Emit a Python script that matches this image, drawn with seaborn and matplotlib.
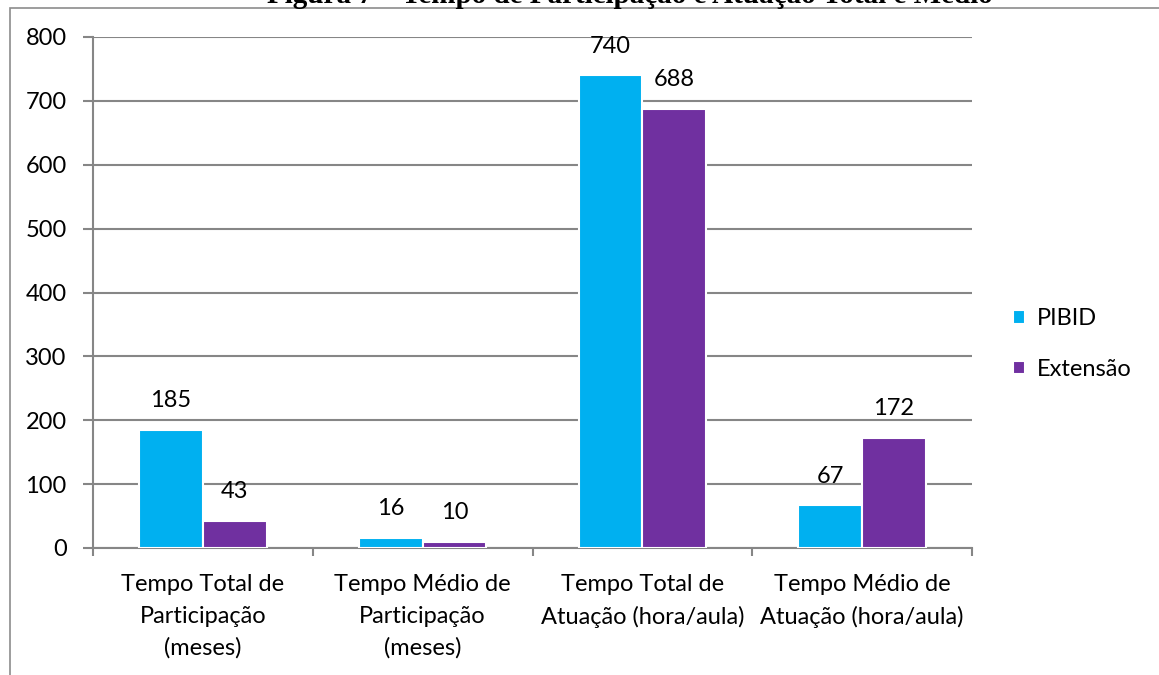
import matplotlib
matplotlib.use("Agg")
import matplotlib.pyplot as plt
import seaborn as sns
import pandas as pd
from matplotlib.patches import Rectangle

categories = ["Tempo Total de\nParticipação\n(meses)",
              "Tempo Médio de\nParticipação\n(meses)",
              "Tempo Total de\nAtuação (hora/aula)",
              "Tempo Médio de\nAtuação (hora/aula)"]
series = ["PIBID", "Extensão"]
pibid = [185, 16, 740, 67]
extensao = [43, 10, 688, 172]
colors = ["#00B0F0", "#7030A0"]
yticks = [0, 100, 200, 300, 400, 500, 600, 700, 800]
title = "Figura 7 – Tempo de Participação e Atuação Total e Médio"

rows = []
for c, p, e in zip(categories, pibid, extensao):
    rows.append({"cat": c, "serie": series[0], "valor": p})
    rows.append({"cat": c, "serie": series[1], "valor": e})
df = pd.DataFrame(rows)

sns.set_theme(style="white")
plt.rcParams["font.family"] = ["Lato", "DejaVu Sans"]

FS = 17
W, H = 1159, 675
fig = plt.figure(figsize=(W / 100, H / 100), dpi=100)
ax = fig.add_axes([93 / W, 1 - 548 / H, (972 - 93) / W, (548 - 37) / H])

grid_c = "#868686"
sns.barplot(data=df, x="cat", y="valor", hue="serie", order=categories,
            hue_order=series, palette=colors, width=0.58, ax=ax,
            edgecolor="white", linewidth=1.5, saturation=1, errorbar=None,
            zorder=3)

ax.set_xlim(-0.5, 3.5)
ax.set_ylim(0, 800)
ax.set_yticks(yticks)
ax.set_yticklabels([str(v) for v in yticks], fontsize=FS)
ax.yaxis.grid(True, color=grid_c, linewidth=1.5, zorder=0)
ax.set_axisbelow(True)
ax.set_xlabel("")
ax.set_ylabel("")

for s in ["top", "right"]:
    ax.spines[s].set_visible(False)
for s in ["left", "bottom"]:
    ax.spines[s].set_color(grid_c)
    ax.spines[s].set_linewidth(1.5)

ax.tick_params(axis="y", which="major", length=7, width=1.5, color=grid_c,
               pad=12, left=True, labelcolor="black")
ax.set_xticks(range(len(categories)))
ax.set_xticklabels(categories, fontsize=FS, linespacing=1.6)
ax.set_xticks([-0.5, 0.5, 1.5, 2.5, 3.5], minor=True)
ax.tick_params(axis="x", which="major", length=0, pad=19, labelcolor="black")
ax.tick_params(axis="x", which="minor", length=6, width=1.5, color=grid_c,
               bottom=True)

for cont in ax.containers:
    for bar in cont:
        h = bar.get_height()
        ax.annotate(f"{h:.0f}", (bar.get_x() + bar.get_width() / 2, h),
                    xytext=(0, 21), textcoords="offset points",
                    ha="center", va="center", fontsize=FS, color="black",
                    zorder=5)

leg = ax.legend(loc="center left", bbox_to_anchor=(992 / W, 1 - 344 / H),
                bbox_transform=fig.transFigure, frameon=False,
                fontsize=FS, handlelength=0.5, handleheight=0.5,
                handletextpad=0.5, labelspacing=1.25)
for t in leg.get_texts():
    t.set_color("black")

# outer frame of the chart area
fig.patches.append(Rectangle((10 / W, -0.1), 1.2, 1 - 8 / H + 0.1,
                             transform=fig.transFigure, fill=False,
                             edgecolor="#8c8c8c", linewidth=1.2))

fig.text(630 / W, 1 - 3 / H, title, ha="center", va="baseline",
         fontsize=21, fontweight="bold", family="Liberation Serif",
         color="black")

fig.savefig("out.png", dpi=100)
